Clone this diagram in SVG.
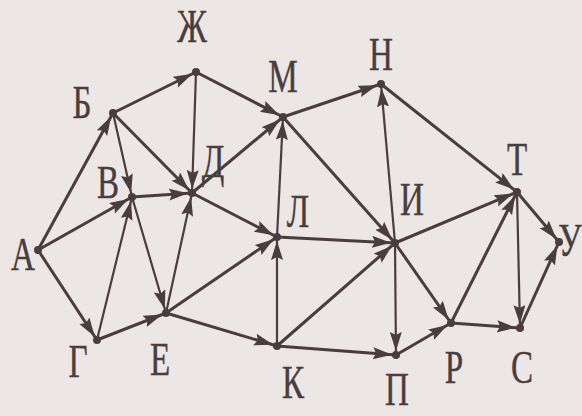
<svg xmlns="http://www.w3.org/2000/svg" width="582" height="416" viewBox="0 0 582 416">
<style>
.bg{fill:#ece6e4}
.e{stroke:#4a3d3d;stroke-width:3;fill:none;marker-end:url(#ah)}
.t{stroke-width:2.2}
.d{fill:#4a3d3d}
.lbl{font-family:"Liberation Serif","Times New Roman",serif;font-size:46px;fill:#4a3d3d;stroke:#4a3d3d;stroke-width:0.4;text-anchor:middle}
</style>
<defs>
<marker id="ah" markerUnits="userSpaceOnUse" markerWidth="26" markerHeight="14" refX="23" refY="6" orient="auto">
<path d="M0,0 L19,6 L0,12 L3,6 z" fill="#4a3d3d"/>
</marker>
</defs>
<rect class="bg" x="0" y="0" width="582" height="416"/>
<g id="connectors">
<line class="e" x1="38" y1="250" x2="113" y2="113"/>
<line class="e" x1="38" y1="250" x2="132" y2="197"/>
<line class="e" x1="38" y1="250" x2="97" y2="340"/>
<line class="e" x1="113" y1="113" x2="196" y2="72"/>
<line class="e t" x1="113" y1="113" x2="132" y2="197"/>
<line class="e" x1="113" y1="113" x2="192" y2="193"/>
<line class="e t" x1="196" y1="72" x2="192" y2="193"/>
<line class="e" x1="196" y1="72" x2="283" y2="117"/>
<line class="e" x1="132" y1="197" x2="192" y2="193"/>
<line class="e t" x1="132" y1="197" x2="166" y2="313"/>
<line class="e t" x1="97" y1="340" x2="132" y2="197"/>
<line class="e" x1="97" y1="340" x2="166" y2="313"/>
<line class="e t" x1="166" y1="313" x2="192" y2="193"/>
<line class="e" x1="166" y1="313" x2="277" y2="237"/>
<line class="e" x1="166" y1="313" x2="277" y2="346"/>
<line class="e" x1="192" y1="193" x2="283" y2="117"/>
<line class="e" x1="192" y1="193" x2="277" y2="237"/>
<line class="e" x1="283" y1="117" x2="381" y2="84"/>
<line class="e" x1="283" y1="117" x2="395" y2="243"/>
<line class="e t" x1="277" y1="237" x2="283" y2="117"/>
<line class="e" x1="277" y1="237" x2="395" y2="243"/>
<line class="e t" x1="277" y1="346" x2="277" y2="237"/>
<line class="e" x1="277" y1="346" x2="395" y2="243"/>
<line class="e" x1="277" y1="346" x2="396" y2="355"/>
<line class="e t" x1="395" y1="243" x2="381" y2="84"/>
<line class="e" x1="381" y1="84" x2="517" y2="192"/>
<line class="e" x1="395" y1="243" x2="517" y2="192"/>
<line class="e t" x1="395" y1="243" x2="396" y2="355"/>
<line class="e" x1="395" y1="243" x2="451" y2="323"/>
<line class="e" x1="396" y1="355" x2="451" y2="323"/>
<line class="e" x1="451" y1="323" x2="517" y2="192"/>
<line class="e" x1="451" y1="323" x2="520" y2="328"/>
<line class="e t" x1="517" y1="192" x2="520" y2="328"/>
<line class="e" x1="517" y1="192" x2="559" y2="242"/>
<line class="e" x1="520" y1="328" x2="559" y2="242"/>
</g>
<g id="node-A"><circle class="d" cx="38" cy="250" r="4"/><text class="lbl" transform="translate(23,270) scale(0.72,1)">А</text></g>
<g id="node-B"><circle class="d" cx="113" cy="113" r="4"/><text class="lbl" transform="translate(82,118) scale(0.72,1)">Б</text></g>
<g id="node-Zh"><circle class="d" cx="196" cy="72" r="4"/><text class="lbl" transform="translate(192,42) scale(0.72,1)">Ж</text></g>
<g id="node-V"><circle class="d" cx="132" cy="197" r="4"/><text class="lbl" transform="translate(108,198) scale(0.72,1)">В</text></g>
<g id="node-D"><circle class="d" cx="192" cy="193" r="4"/><text class="lbl" transform="translate(213,177) scale(0.72,1)">Д</text></g>
<g id="node-M"><circle class="d" cx="283" cy="117" r="4"/><text class="lbl" transform="translate(283,92) scale(0.72,1)">М</text></g>
<g id="node-N"><circle class="d" cx="381" cy="84" r="4"/><text class="lbl" transform="translate(381,70) scale(0.72,1)">Н</text></g>
<g id="node-L"><circle class="d" cx="277" cy="237" r="4"/><text class="lbl" transform="translate(298,227) scale(0.72,1)">Л</text></g>
<g id="node-I"><circle class="d" cx="395" cy="243" r="4"/><text class="lbl" transform="translate(412,215) scale(0.72,1)">И</text></g>
<g id="node-T"><circle class="d" cx="517" cy="192" r="4"/><text class="lbl" transform="translate(517,175) scale(0.72,1)">Т</text></g>
<g id="node-U"><circle class="d" cx="559" cy="242" r="4"/><text class="lbl" transform="translate(570,256) scale(0.72,1)">У</text></g>
<g id="node-G"><circle class="d" cx="97" cy="340" r="4"/><text class="lbl" transform="translate(78,377) scale(0.72,1)">Г</text></g>
<g id="node-E"><circle class="d" cx="166" cy="313" r="4"/><text class="lbl" transform="translate(160,375) scale(0.72,1)">Е</text></g>
<g id="node-K"><circle class="d" cx="277" cy="346" r="4"/><text class="lbl" transform="translate(293,398) scale(0.72,1)">К</text></g>
<g id="node-P"><circle class="d" cx="396" cy="355" r="4"/><text class="lbl" transform="translate(397,405) scale(0.72,1)">П</text></g>
<g id="node-R"><circle class="d" cx="451" cy="323" r="4"/><text class="lbl" transform="translate(454,383) scale(0.72,1)">Р</text></g>
<g id="node-S"><circle class="d" cx="520" cy="328" r="4"/><text class="lbl" transform="translate(522,383) scale(0.72,1)">С</text></g>
</svg>
